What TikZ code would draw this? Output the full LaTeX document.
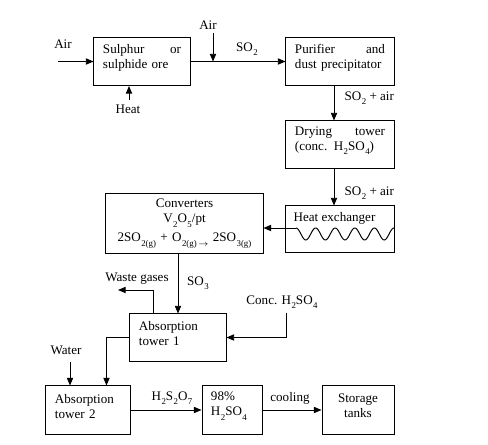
\documentclass[tikz,border=0pt]{standalone}
\usepackage{fontspec}
\setmainfont{Liberation Serif}
\usetikzlibrary{arrows.meta, calc}
\newcommand{\chsub}[1]{\kern0.3pt\raisebox{-3.2pt}{\fontsize{6.3}{6.3}\selectfont#1}}
\tikzset{
  unit/.style={
    rectangle, draw, line width=0.7pt, inner xsep=0.225cm, inner ysep=2pt,
    align=left, font=\fontsize{9.3}{10.8}\selectfont
  },
  unitup/.style={unit, execute at end node={\par\vspace{5.5pt}}},
  lbl/.style={font=\fontsize{9.3}{10.8}\selectfont, inner sep=1pt},
  arrow/.style={-{Triangle[length=5.5pt, width=4.5pt]}, line width=0.7pt},
  link/.style={line width=0.7pt}
}
\begin{document}
\begin{tikzpicture}[x=0.025cm, y=-0.025cm]
  \useasboundingbox (0,0) rectangle (488,445);

  % Roasting and cleaning
  \node[unitup, text width=1.95cm, minimum width=2.4cm, minimum height=1.2cm]
    (ore) at (142,61.5) {Sulphur\hfill or\\sulphide ore};
  \node[unitup, text width=2.25cm, minimum width=2.7cm, minimum height=1.2cm]
    (pur) at (340,61.5) {Purifier\hfill and\\dust precipitator};
  \node[unitup, text width=2.25cm, minimum width=2.7cm, minimum height=1.175cm]
    (dry) at (340,144.5) {Drying\hfill tower\\(conc. H\chsub{2}SO\chsub{4})};
  \node[unit, text width=2.25cm, minimum width=2.7cm, minimum height=1.15cm]
    (hx) at (340,229) {};
  \node[lbl, anchor=west] (hxname) at (292,218) {Heat exchanger};

  % Conversion and absorption
  \node[unit, align=center, text width=3.475cm, minimum width=3.925cm, minimum height=1.475cm]
    (conv) at (184.5,223.5)
    {Converters\\V\chsub{2}O\chsub{5}/pt\\[3pt]
     2SO\chsub{2(g)} + O\chsub{2(g)\,$\rightarrow$} 2SO\chsub{3(g)}};
  \node[unitup, text width=1.95cm, minimum width=2.4cm, minimum height=1.175cm]
    (tw1) at (178,337.5) {Absorption\\tower 1};
  \node[unitup, text width=1.65cm, minimum width=2.1cm, minimum height=1.2cm]
    (tw2) at (88,410) {Absorption\\tower 2};
  \node[unitup, text width=1.05cm, minimum width=1.5cm, minimum height=1.2cm]
    (acid) at (232,410) {98\%\\H\chsub{2}SO\chsub{4}};
  \node[unitup, align=center, text width=1.35cm, minimum width=1.8cm, minimum height=1.2cm]
    (store) at (358,410) {Storage\\tanks};

  % Stream labels
  \node[lbl] (airl) at (63,44) {Air};
  \node[lbl] (airt) at (208,25) {Air};
  \node[lbl] (so2a) at (247,49) {SO\chsub{2}};
  \node[lbl] (heat) at (128,109) {Heat};
  \node[lbl, anchor=west] (so2b) at (343,98) {SO\chsub{2} + air};
  \node[lbl, anchor=west] (so2c) at (343,193) {SO\chsub{2} + air};
  \node[lbl] (waste) at (137,279) {Waste gases};
  \node[lbl] (so3) at (198,283) {SO\chsub{3}};
  \node[lbl] (conc) at (282,302) {Conc. H\chsub{2}SO\chsub{4}};
  \node[lbl] (water) at (66,350) {Water};
  \node[lbl] (oleum) at (172,398) {H\chsub{2}S\chsub{2}O\chsub{7}};
  \node[lbl] (cool) at (290,398) {cooling};

  % Free ends
  \coordinate (airin) at (58,61.5);
  \coordinate (airdown) at (213,33);
  \coordinate (heatup) at (129,100);
  \coordinate (wv) at (296,228);
  \coordinate (wasteout) at (118,290);
  \coordinate (concin) at (286,313);
  \coordinate (waterin) at (70,362);

  % Connectors
  \draw[arrow] (airin) -- (ore.west);
  \draw[arrow] (ore.east) -- (pur.west);
  \draw[arrow] (airdown) -- (airdown |- ore.east);
  \draw[arrow] (heatup) -- (heatup |- ore.south);
  \draw[arrow] ($(pur.south)+(-6,0)$) -- ($(dry.north)+(-6,0)$);
  \draw[arrow] ($(dry.south)+(-6,0)$) -- ($(hx.north)+(-6,0)$);
  \draw[link, domain=296:394, samples=120] plot (\x, {234-6*cos(18.367*(\x-296))});
  \draw[arrow] (wv) -- (wv -| conv.east);
  \draw[arrow] (tw1.north |- conv.south) -- (tw1.north);
  \draw[arrow] ($(tw1.north west)+(24,0)$) |- (wasteout);
  \draw[arrow] (concin) |- (tw1.east);
  \draw[arrow] (tw1.west) -| ($(tw2.north east)+(-24,0)$);
  \draw[arrow] (waterin) -- (waterin |- tw2.north);
  \draw[arrow] (tw2) -- (acid);
  \draw[arrow] (acid) -- (store);
\end{tikzpicture}
\end{document}
